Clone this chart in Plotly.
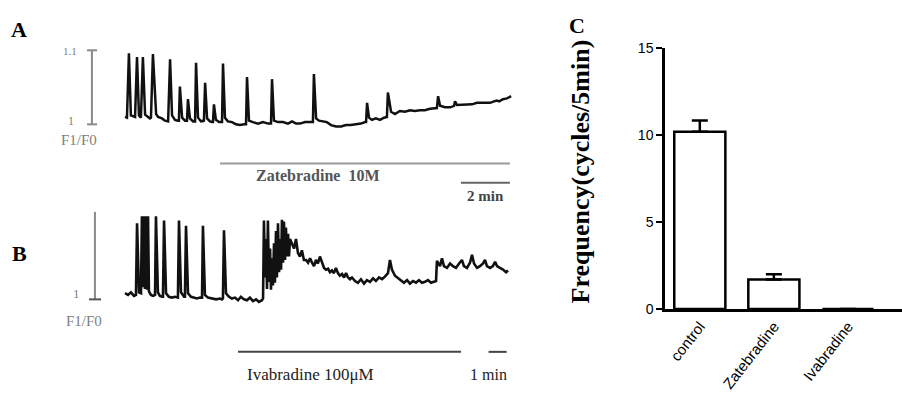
import plotly.graph_objects as go

# ---------------- data ----------------
# Panel A: Ca2+ trace (time in min, F1/F0) under Zatebradine
trace_a = [
    [0, 1.010], [0.08, 1.009], [0.16, 1.096], [0.24, 1.012], [0.41, 1.010], [0.49, 1.091], [0.57, 1.012],
    [0.65, 1.009], [0.73, 1.091], [0.82, 1.013], [0.94, 1.010], [1.02, 1.008], [1.06, 1.009], [1.14, 1.095],
    [1.27, 1.014], [1.35, 1.010], [1.51, 1.008], [1.63, 1.005], [1.76, 1.004], [1.84, 1.088], [1.92, 1.012],
    [2.04, 1.006], [2.16, 1.005], [2.20, 1.005], [2.24, 1.051], [2.33, 1.009], [2.45, 1.005], [2.53, 1.005],
    [2.57, 1.034], [2.65, 1.008], [2.78, 1.004], [2.86, 1.004], [2.90, 1.083], [2.98, 1.009], [3.10, 1.004],
    [3.18, 1.005], [3.22, 1.004], [3.27, 1.056], [3.35, 1.008], [3.47, 1.004], [3.55, 1.003], [3.59, 1.003],
    [3.63, 1.027], [3.71, 1.006], [3.84, 1.003], [3.92, 1.003], [3.96, 1.003], [4.00, 1.082], [4.08, 1.009],
    [4.20, 1.004], [4.37, 1.003], [4.53, 1.000], [4.69, 0.999], [4.86, 1.000], [4.94, 1.000], [4.98, 1.064],
    [5.06, 1.005], [5.22, 1.003], [5.43, 1.001], [5.63, 1.003], [5.84, 1.001], [5.96, 1.001], [6.00, 1.061],
    [6.08, 1.005], [6.24, 1.003], [6.45, 1.003], [6.65, 1.001], [6.82, 1.004], [6.98, 1.001], [7.14, 1.001],
    [7.35, 1.003], [7.55, 1.003], [7.67, 1.003], [7.71, 1.068], [7.80, 1.008], [7.92, 1.005], [8.08, 1.004],
    [8.24, 1.003], [8.41, 0.999], [8.61, 0.997], [8.82, 0.997], [9.02, 0.999], [9.22, 0.999], [9.43, 1.000],
    [9.63, 1.001], [9.80, 1.003], [9.84, 1.003], [9.88, 1.029], [9.96, 1.009], [10.08, 1.006], [10.24, 1.008],
    [10.41, 1.006], [10.57, 1.009], [10.69, 1.010], [10.73, 1.043], [10.86, 1.017], [11.02, 1.014],
    [11.22, 1.018], [11.43, 1.017], [11.63, 1.019], [11.84, 1.018], [12.04, 1.019], [12.24, 1.019],
    [12.45, 1.021], [12.65, 1.022], [12.73, 1.022], [12.78, 1.038], [12.86, 1.025], [13.06, 1.023],
    [13.27, 1.023], [13.43, 1.025], [13.47, 1.031], [13.55, 1.026], [13.76, 1.026], [13.96, 1.027],
    [14.16, 1.027], [14.37, 1.029], [14.57, 1.029], [14.73, 1.030], [14.90, 1.029], [15.06, 1.031],
    [15.18, 1.032], [15.27, 1.031], [15.43, 1.034], [15.59, 1.035], [15.76, 1.038],
]

# Panel B: Ca2+ trace (time in min, F1/F0) under Ivabradine
trace_b = [
    [0, 1.007], [0.17, 1.005], [0.33, 1.008], [0.5, 1.004], [0.61, 1.005], [0.67, 1.087], [0.78, 1.008],
    [0.89, 1.007], [0.94, 1.095], [1.0, 1.014], [1.06, 1.095], [1.11, 1.012], [1.17, 1.095], [1.22, 1.011],
    [1.28, 1.095], [1.33, 1.009], [1.44, 1.005], [1.56, 1.004], [1.67, 1.005], [1.72, 1.095], [1.83, 1.008],
    [1.94, 1.004], [2.06, 1.003], [2.11, 1.003], [2.17, 1.090], [2.28, 1.007], [2.44, 1.003], [2.61, 1.002],
    [2.78, 1.003], [2.89, 1.002], [2.94, 1.002], [3.0, 1.090], [3.11, 1.008], [3.28, 1.003], [3.33, 1.003],
    [3.39, 1.084], [3.5, 1.007], [3.67, 1.003], [3.83, 1.002], [4.0, 1.001], [4.17, 1.002], [4.28, 1.002],
    [4.33, 1.084], [4.44, 1.005], [4.61, 1.002], [4.83, 1.001], [5.06, 1.000], [5.28, 1.001], [5.39, 1.000],
    [5.44, 1.001], [5.5, 1.079], [5.61, 1.007], [5.78, 1.003], [5.94, 1.001], [6.11, 1.002], [6.28, 0.999],
    [6.44, 1.003], [6.61, 1.000], [6.78, 0.999], [6.94, 1.002], [7.11, 0.998], [7.28, 1.000], [7.44, 0.997],
    [7.61, 0.999], [7.67, 1.001], [7.72, 1.090], [7.78, 1.025], [7.83, 1.069], [7.89, 1.012], [7.94, 1.090],
    [8.0, 1.020], [8.06, 1.058], [8.11, 1.011], [8.17, 1.047], [8.22, 1.016], [8.28, 1.064], [8.33, 1.019],
    [8.39, 1.078], [8.44, 1.025], [8.5, 1.087], [8.56, 1.031], [8.61, 1.069], [8.67, 1.034], [8.72, 1.091],
    [8.78, 1.042], [8.83, 1.089], [8.89, 1.045], [8.94, 1.082], [9.0, 1.049], [9.06, 1.075], [9.11, 1.049],
    [9.17, 1.069], [9.28, 1.064], [9.39, 1.058], [9.5, 1.069], [9.61, 1.053], [9.72, 1.049], [9.83, 1.056],
    [9.94, 1.045], [10.06, 1.045], [10.17, 1.042], [10.28, 1.047], [10.39, 1.042], [10.5, 1.038],
    [10.61, 1.045], [10.72, 1.041], [10.83, 1.049], [10.94, 1.042], [11.06, 1.036], [11.17, 1.034],
    [11.28, 1.035], [11.39, 1.031], [11.5, 1.033], [11.61, 1.030], [11.72, 1.036], [11.83, 1.030],
    [11.94, 1.027], [12.06, 1.029], [12.17, 1.025], [12.28, 1.030], [12.39, 1.025], [12.5, 1.023],
    [12.61, 1.025], [12.78, 1.021], [12.94, 1.019], [13.11, 1.023], [13.28, 1.018], [13.44, 1.022],
    [13.61, 1.020], [13.78, 1.024], [13.94, 1.021], [14.11, 1.025], [14.28, 1.023], [14.44, 1.026],
    [14.61, 1.030], [14.72, 1.045], [14.83, 1.034], [15.0, 1.027], [15.17, 1.024], [15.33, 1.021],
    [15.5, 1.019], [15.67, 1.022], [15.83, 1.018], [16.0, 1.021], [16.17, 1.019], [16.33, 1.022],
    [16.5, 1.019], [16.67, 1.020], [16.83, 1.022], [17.0, 1.019], [17.17, 1.020], [17.28, 1.021],
    [17.33, 1.044], [17.5, 1.038], [17.61, 1.047], [17.72, 1.038], [17.89, 1.036], [18.06, 1.041],
    [18.22, 1.038], [18.39, 1.036], [18.56, 1.041], [18.72, 1.045], [18.83, 1.038], [19.0, 1.036],
    [19.17, 1.042], [19.28, 1.051], [19.39, 1.041], [19.56, 1.036], [19.72, 1.038], [19.89, 1.041],
    [20.0, 1.045], [20.11, 1.038], [20.28, 1.036], [20.44, 1.038], [20.56, 1.043], [20.67, 1.038],
    [20.83, 1.036], [21.0, 1.034], [21.17, 1.031], [21.28, 1.033],
]

# Drug application periods (min)
zate_period = [3.88, 15.71]
ivab_period = [6.28, 18.67]

# Panel C: frequency (cycles / 5 min)
categories = ["control", "Zatebradine", "Ivabradine"]
frequency = [10.2, 1.7, 0.0]
freq_sem = [0.65, 0.3, 0.0]
y_ticks = [0, 5, 10, 15]

# ---------------- figure ----------------
W, H = 902, 417


def px(x, y):
    return x / W, 1 - y / H


fig = go.Figure()

ta, fa = zip(*trace_a)
tb, fb = zip(*trace_b)
fig.add_trace(go.Scatter(x=ta, y=fa, mode="lines", xaxis="x", yaxis="y",
                         line=dict(color="#111111", width=2.5), showlegend=False, hoverinfo="skip"))
fig.add_trace(go.Scatter(x=tb, y=fb, mode="lines", xaxis="x2", yaxis="y2",
                         line=dict(color="#111111", width=2.6), showlegend=False, hoverinfo="skip"))

fig.add_trace(go.Bar(x=categories, y=frequency, xaxis="x3", yaxis="y3", width=0.69,
                     marker=dict(color="white", line=dict(color="black", width=2.5)),
                     error_y=dict(type="data", symmetric=False, array=freq_sem,
                                  arrayminus=[0, 0, 0], color="black", thickness=2.5, width=8),
                     showlegend=False))

hidden = dict(visible=False, showgrid=False, zeroline=False)
fig.update_layout(
    width=W, height=H, autosize=False,
    margin=dict(l=0, r=0, t=0, b=0),
    paper_bgcolor="white", plot_bgcolor="rgba(0,0,0,0)",
    xaxis=dict(domain=[0, 1], range=[-5.102, 31.714], anchor="y", **hidden),
    yaxis=dict(domain=[0, 1], range=[0.6156, 1.1571], anchor="x", **hidden),
    xaxis2=dict(domain=[0, 1], range=[-6.944, 43.167], anchor="y2", **hidden),
    yaxis2=dict(domain=[0, 1], range=[0.8747, 1.3330], anchor="x2", **hidden),
    xaxis3=dict(domain=[665 / W, 1], range=[-0.47, 2.73], anchor="y3", type="category",
                showline=True, linecolor="black", linewidth=2.5, ticks="", tickangle=-52,
                showgrid=False, zeroline=False,
                tickfont=dict(family="Liberation Sans, Arial", size=15, color="black")),
    yaxis3=dict(domain=[(H - 313) / H, (H - 42) / H], range=[0, 15], anchor="x3",
                showline=True, linecolor="black", linewidth=2.5, ticks="outside",
                ticklen=6, tickwidth=2, tickcolor="black", tickvals=y_ticks,
                showgrid=False, zeroline=False,
                tickfont=dict(family="Liberation Sans, Arial", size=14, color="black")),
)

gray = "#8a8a8a"
shapes = [
    # A: vertical F1/F0 scale (1 -> 1.1)
    dict(type="line", xref="x", yref="y", x0=-1.35, x1=-1.35, y0=1.0, y1=1.1, line=dict(color=gray, width=2)),
    dict(type="line", xref="x", yref="y", x0=-1.55, x1=-1.14, y0=1.0, y1=1.0, line=dict(color=gray, width=2)),
    dict(type="line", xref="x", yref="y", x0=-1.55, x1=-1.14, y0=1.1, y1=1.1, line=dict(color=gray, width=2)),
    # A: drug bar and 2 min bar
    dict(type="line", xref="x", yref="y", x0=zate_period[0], x1=zate_period[1], y0=0.947, y1=0.947,
         line=dict(color="#9a9a9a", width=2)),
    dict(type="line", xref="x", yref="y", x0=zate_period[1] - 2, x1=zate_period[1], y0=0.921, y1=0.921,
         line=dict(color="#666666", width=2)),
    # B: vertical scale
    dict(type="line", xref="x2", yref="y2", x0=-1.67, x1=-1.67, y0=1.0, y1=1.1, line=dict(color=gray, width=2)),
    dict(type="line", xref="x2", yref="y2", x0=-2.0, x1=-1.33, y0=1.0, y1=1.0, line=dict(color="#555555", width=2)),
    # B: drug bar and 1 min bar
    dict(type="line", xref="x2", yref="y2", x0=ivab_period[0], x1=ivab_period[1], y0=0.940, y1=0.940,
         line=dict(color="#444444", width=2)),
    dict(type="line", xref="x2", yref="y2", x0=20.2, x1=21.2, y0=0.940, y1=0.940,
         line=dict(color="#444444", width=2)),
]
fig.update_layout(shapes=shapes)

serif = "Liberation Serif, Times New Roman, serif"


def label(text, x, y, size, color="black", bold=False, angle=0):
    xp, yp = px(x, y)
    t = f"<b>{text}</b>" if bold else text
    fig.add_annotation(x=xp, y=yp, xref="paper", yref="paper", text=t, showarrow=False,
                       xanchor="center", yanchor="middle", textangle=angle,
                       font=dict(family=serif, size=size, color=color))


label("A", 19, 22, 22, bold=True)
label("B", 19, 255, 22, bold=True)
label("C", 577, 18, 22, bold=True)
label("1.1", 70, 45, 11, color="#808080")
label("1", 71, 117, 12, color="#808080")
label("F1/F0", 79, 137, 15, color="#808080")
label("1", 76, 297, 13, color="#808080")
label("F1/F0", 84, 325, 15, color="#808080")
label("Zatebradine  10M", 318, 174, 16, color="#555555", bold=True)
label("2 min", 485, 195, 15, color="#444444", bold=True)
label("Ivabradine 100μM", 310, 381, 17, color="#222222")
label("1 min", 488, 381, 16, color="#222222")
label("Frequency(cycles/5min)", 580, 170, 26, bold=True, angle=-90)

fig.write_html("out.html")
